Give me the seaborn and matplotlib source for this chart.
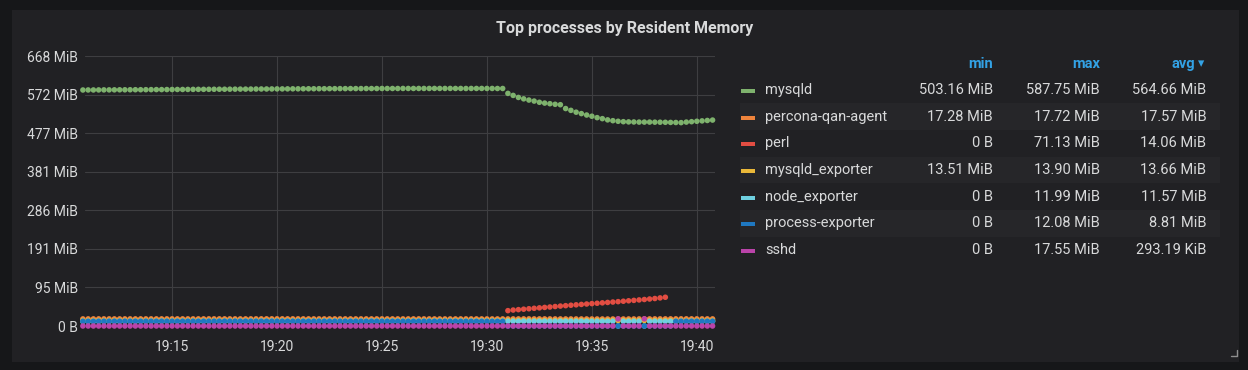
import numpy as np
import pandas as pd
import seaborn as sns
import matplotlib.pyplot as plt
import matplotlib.dates as mdates
from matplotlib.patches import Rectangle
from matplotlib.lines import Line2D

# ---- data (MiB, one sample every 15 s) ----
series_names = ["mysqld", "percona-qan-agent", "perl", "mysqld_exporter",
                "node_exporter", "process-exporter", "sshd"]
series_colors = ["#7eb26d", "#ef843c", "#e24d42", "#eab839",
                 "#6ed0e0", "#1f78c1", "#ba43a9"]

sample_times = pd.date_range("2019-03-01 19:10:45", periods=121, freq="15s")

mysqld = [
    583.9, 584.0, 584.0, 584.1, 584.2, 584.2, 584.3, 584.4, 584.4, 584.5, 584.6,
    584.6, 584.7, 584.8, 584.9, 584.9, 585.0, 585.1, 585.2, 585.2, 585.3, 585.4,
    585.5, 585.5, 585.6, 585.7, 585.8, 585.8, 585.9, 586.0, 586.1, 586.1, 586.2,
    586.3, 586.4, 586.4, 586.5, 586.6, 586.6, 586.7, 586.8, 586.8, 586.9, 587.0,
    587.0, 587.1, 587.1, 587.2, 587.2, 587.3, 587.3, 587.4, 587.4, 587.4, 587.5,
    587.5, 587.5, 587.6, 587.6, 587.6, 587.6, 587.7, 587.7, 587.7, 587.7, 587.7,
    587.7, 587.75, 587.7, 587.7, 587.75, 587.7, 587.7, 587.6, 587.7, 587.7, 587.75,
    587.7, 587.7, 587.6, 587.6, 575.5, 570.5, 565.5, 562.0, 559.0, 556.5, 553.5,
    551.5, 550.0, 548.5, 547.5, 538.0, 533.5, 529.0, 525.5, 522.0, 519.0, 515.5,
    513.0, 510.0, 508.0, 506.5, 505.5, 505.0, 504.8, 504.5, 504.5, 504.5, 504.3,
    504.2, 504.0, 503.7, 503.5, 503.16, 504.5, 505.5, 506.5, 507.5, 508.5, 509.5,
]

percona_qan_agent = [
    17.52, 17.55, 17.58, 17.60, 17.61, 17.60, 17.58, 17.57, 17.59, 17.61, 17.62,
    17.62, 17.60, 17.59, 17.58, 17.60, 17.63, 17.64, 17.62, 17.60, 17.58, 17.57,
    17.59, 17.61, 17.63, 17.65, 17.66, 17.64, 17.62, 17.60, 17.59, 17.61, 17.63,
    17.64, 17.66, 17.68, 17.70, 17.72, 17.70, 17.68, 17.66, 17.64, 17.62, 17.60,
    17.58, 17.56, 17.55, 17.57, 17.59, 17.61, 17.60, 17.58, 17.56, 17.55, 17.54,
    17.55, 17.57, 17.59, 17.58, 17.56, 17.54, 17.53, 17.55, 17.57, 17.58, 17.56,
    17.54, 17.52, 17.50, 17.49, 17.51, 17.53, 17.55, 17.56, 17.54, 17.52, 17.50,
    17.48, 17.47, 17.49, 17.51, 17.53, 17.55, 17.57, 17.59, 17.61, 17.60, 17.58,
    17.56, 17.54, 17.52, 17.50, 17.48, 17.46, 17.44, 17.42, 17.40, 17.38, 17.35,
    17.32, 17.30, 17.28, 17.31, 17.35, 17.40, 17.45, 17.50, 17.55, 17.58, 17.60,
    17.62, 17.64, 17.66, 17.68, 17.70, 17.68, 17.66, 17.64, 17.62, 17.60, 17.58,
]

# perl only reports between 19:31:00 and 19:38:30
perl_first_sample = 81
perl = [
    38.0, 39.5, 40.5, 41.6, 42.7, 43.8, 44.9, 46.0, 47.0, 48.2, 49.3,
    50.3, 51.4, 52.4, 53.4, 54.4, 55.4, 56.3, 57.3, 58.3, 59.3, 60.3,
    61.3, 62.4, 63.4, 64.5, 65.6, 66.8, 68.0, 69.5, 71.13,
]

mysqld_exporter = [
    13.51, 13.53, 13.55, 13.56, 13.58, 13.60, 13.61, 13.62, 13.63, 13.64, 13.65,
    13.65, 13.66, 13.66, 13.67, 13.67, 13.66, 13.65, 13.64, 13.63, 13.63, 13.62,
    13.62, 13.61, 13.61, 13.60, 13.60, 13.61, 13.62, 13.63, 13.64, 13.65, 13.66,
    13.67, 13.68, 13.69, 13.70, 13.71, 13.70, 13.69, 13.68, 13.67, 13.66, 13.65,
    13.64, 13.63, 13.62, 13.61, 13.60, 13.59, 13.58, 13.58, 13.59, 13.60, 13.61,
    13.62, 13.63, 13.64, 13.65, 13.66, 13.67, 13.68, 13.69, 13.70, 13.71, 13.72,
    13.73, 13.74, 13.75, 13.76, 13.78, 13.80, 13.82, 13.84, 13.86, 13.88, 13.90,
    13.88, 13.85, 13.82, 13.79, 13.76, 13.73, 13.70, 13.68, 13.66, 13.64, 13.62,
    13.60, 13.59, 13.58, 13.57, 13.56, 13.56, 13.57, 13.58, 13.59, 13.60, 13.61,
    13.62, 13.63, 13.64, 13.65, 13.66, 13.67, 13.66, 13.65, 13.64, 13.63, 13.62,
    13.61, 13.62, 13.63, 13.64, 13.65, 13.66, 13.67, 13.68, 13.69, 13.70, 13.71,
]

node_exporter = [
    11.42, 11.45, 11.48, 11.50, 11.52, 11.55, 11.57, 11.58, 11.60, 11.61, 11.62,
    11.63, 11.64, 11.65, 11.66, 11.67, 11.68, 11.69, 11.70, 11.71, 11.72, 11.73,
    11.74, 11.75, 11.76, 11.77, 11.78, 11.78, 11.79, 11.80, 11.80, 11.81, 11.81,
    11.82, 11.82, 11.83, 11.83, 11.84, 11.84, 11.85, 11.85, 11.86, 11.86, 11.87,
    11.87, 11.88, 11.88, 11.89, 11.89, 11.90, 11.90, 11.91, 11.91, 11.92, 11.92,
    11.93, 11.93, 11.94, 11.94, 11.95, 11.95, 11.96, 11.96, 11.97, 11.97, 11.98,
    11.98, 11.99, 11.99, 11.98, 11.97, 11.96, 11.95, 11.94, 11.93, 11.92, 11.91,
    11.90, 11.89, 11.88, 11.87, 11.86, 11.85, 11.84, 11.83, 11.82, 11.81, 11.80,
    11.79, 11.78, 11.77, 11.76, 11.75, 11.74, 11.73, 11.72, 11.71, 11.70, 11.69,
    11.68, 11.67, 11.66, 0.0, 11.65, 11.64, 11.63, 11.62, 0.0, 11.61, 11.60,
    11.59, 11.58, 11.57, 11.56, 11.55, 11.54, 11.53, 11.52, 11.51, 11.50, 11.49,
]

process_exporter = [
    11.85, 11.88, 11.90, 11.92, 11.94, 11.95, 11.96, 11.97, 11.98, 11.99, 12.00,
    12.00, 12.01, 12.01, 12.02, 12.02, 12.03, 12.03, 12.04, 12.04, 12.05, 12.05,
    12.05, 12.06, 12.06, 12.06, 12.07, 12.07, 12.07, 12.08, 12.08, 12.08, 12.07,
    12.07, 12.06, 12.06, 12.05, 12.05, 12.04, 12.04, 12.03, 12.03, 12.02, 12.02,
    12.01, 12.01, 12.00, 12.00, 11.99, 11.99, 11.98, 11.98, 11.97, 11.97, 11.96,
    11.96, 11.95, 11.95, 11.94, 11.94, 11.93, 11.93, 11.92, 11.92, 11.91, 11.91,
    11.90, 11.90, 11.89, 11.89, 11.88, 11.88, 11.87, 11.87, 11.86, 11.86, 11.85,
    11.85, 11.84, 11.84, 11.83, 0.0, 0.0, 0.0, 0.0, 0.0, 0.0, 0.0,
    0.0, 0.0, 0.0, 0.0, 0.0, 0.0, 0.0, 0.0, 0.0, 0.0, 0.0,
    0.0, 0.0, 0.0, 0.0, 0.0, 0.0, 0.0, 0.0, 0.0, 0.0, 0.0,
    0.0, 0.0, 0.0, 11.90, 11.92, 11.94, 11.95, 11.96, 11.97, 11.98, 11.99,
]

sshd = [
    0, 0, 0, 0, 0, 0, 0, 0, 0, 0, 0,
    0, 0, 0, 0, 0, 0, 0, 0, 0, 0, 0,
    0, 0, 0, 0, 0, 0, 0, 0, 0, 0, 0,
    0, 0, 0, 0, 0, 0, 0, 0, 0, 0, 0,
    0, 0, 0, 0, 0, 0, 0, 0, 0, 0, 0,
    0, 0, 0, 0, 0, 0, 0, 0, 0, 0, 0,
    0, 0, 0, 0, 0, 0, 0, 0, 0, 0, 0,
    0, 0, 0, 0, 0, 0, 0, 0, 0, 0, 0,
    0, 0, 0, 0, 0, 0, 0, 0, 0, 0, 0,
    0, 0, 0, 17.55, 0, 0, 0, 0, 17.55, 0, 0,
    0, 0, 0, 0, 0, 0, 0, 0, 0, 0, 0,
]

ytick_values = [0, 95.43, 190.86, 286.29, 381.71, 477.14, 572.57, 668]
ytick_labels = ["0 B", "95 MiB", "191 MiB", "286 MiB", "381 MiB",
                "477 MiB", "572 MiB", "668 MiB"]
xtick_labels = ["19:15", "19:20", "19:25", "19:30", "19:35", "19:40"]

legend_min = ["503.16 MiB", "17.28 MiB", "0 B", "13.51 MiB", "0 B", "0 B", "0 B"]
legend_max = ["587.75 MiB", "17.72 MiB", "71.13 MiB", "13.90 MiB",
              "11.99 MiB", "12.08 MiB", "17.55 MiB"]
legend_avg = ["564.66 MiB", "17.57 MiB", "14.06 MiB", "13.66 MiB",
              "11.57 MiB", "8.81 MiB", "293.19 KiB"]

# ---- long table, series order = draw order ----
frames = []
all_values = [mysqld, percona_qan_agent, None, mysqld_exporter,
              node_exporter, process_exporter, sshd]
for name, vals in zip(series_names, all_values):
    if name == "perl":
        t = sample_times[perl_first_sample:perl_first_sample + len(perl)]
        vals = perl
    else:
        t = sample_times
    frames.append(pd.DataFrame({"time": t, "mib": vals, "process": name}))
df = pd.concat(frames, ignore_index=True)

# ---- style ----
W, H = 1248, 370
PAGE_BG = "#161719"
PANEL_BG = "#212124"
TEXT = "#d8d9da"
GRID = "#3e3e41"

sns.set_style("dark")
plt.rcParams["font.family"] = ["Roboto", "DejaVu Sans"]


def fx(x):
    return x / W


def fy(y):
    return 1 - y / H


fig = plt.figure(figsize=(W / 100, H / 100), dpi=100, facecolor=PAGE_BG)
fig.add_artist(Rectangle((fx(12), fy(362)), fx(1239 - 12), (362 - 10) / H,
                         transform=fig.transFigure, facecolor=PANEL_BG,
                         edgecolor="none", zorder=0))

ax = fig.add_axes([fx(85), fy(326), fx(715 - 85), (326 - 56) / H])
ax.set_facecolor("none")

sns.scatterplot(data=df, x="time", y="mib", hue="process",
                hue_order=series_names,
                palette=dict(zip(series_names, series_colors)),
                s=16, linewidth=0, legend=False, ax=ax, zorder=3)
for coll in ax.collections:
    coll.set_clip_on(False)

ax.set_ylim(0, 668)
ax.set_yticks(ytick_values)
ax.set_yticklabels(ytick_labels)
ax.set_xlim(pd.Timestamp("2019-03-01 19:10:51"), pd.Timestamp("2019-03-01 19:40:52"))
ax.set_xticks(pd.to_datetime(["2019-03-01 " + s for s in xtick_labels]))
ax.xaxis.set_major_formatter(mdates.DateFormatter("%H:%M"))
ax.set_xlabel("")
ax.set_ylabel("")
ax.grid(True, color=GRID, linewidth=0.8)
for sp in ax.spines.values():
    sp.set_visible(False)
ax.tick_params(axis="both", length=0, colors=TEXT, labelsize=10)
ax.tick_params(axis="y", pad=5)
ax.tick_params(axis="x", pad=10)

# title
fig.text(fx(625), fy(29), "Top processes by Resident Memory", ha="center",
         va="center", fontsize=11.5, fontweight="bold", color=TEXT)

# legend table
HEAD = "#33a2e5"
col_right = [993, 1100, 1195]
for x, lab in zip(col_right, ["min", "max", "avg"]):
    fig.text(fx(x), fy(64), lab, ha="right", va="center", fontsize=10.5,
             fontweight="bold", color=HEAD)
fig.text(fx(1198), fy(64), "▾", ha="left", va="center", fontsize=9,
         color=HEAD, family=["DejaVu Sans"])

row_y = [90, 116.7, 143.3, 170, 196.7, 223.3, 250]
for i, (name, color) in enumerate(zip(series_names, series_colors)):
    y = row_y[i]
    if i % 2 == 1:
        fig.add_artist(Rectangle((fx(740), fy(y + 13.3)), fx(480), 26.6 / H,
                                 transform=fig.transFigure, facecolor="#262629",
                                 edgecolor="none", zorder=1))
    fig.add_artist(Rectangle((fx(741), fy(y + 3)), fx(14), 4 / H,
                             transform=fig.transFigure, facecolor=color,
                             edgecolor="none", zorder=2))
    fig.text(fx(765), fy(y), name, ha="left", va="center", fontsize=10.5,
             color=TEXT, zorder=3)
    for x, vals in zip([993, 1100, 1206.5], [legend_min, legend_max, legend_avg]):
        fig.text(fx(x), fy(y), vals[i], ha="right", va="center", fontsize=10.5,
                 color=TEXT, zorder=3)

# panel resize handle
fig.add_artist(Line2D([fx(1231), fx(1237), fx(1237)], [fy(356), fy(356), fy(350)],
                      transform=fig.transFigure, color="#8e8e8e", linewidth=1))

fig.savefig("out.png", dpi=100, facecolor=PAGE_BG)
